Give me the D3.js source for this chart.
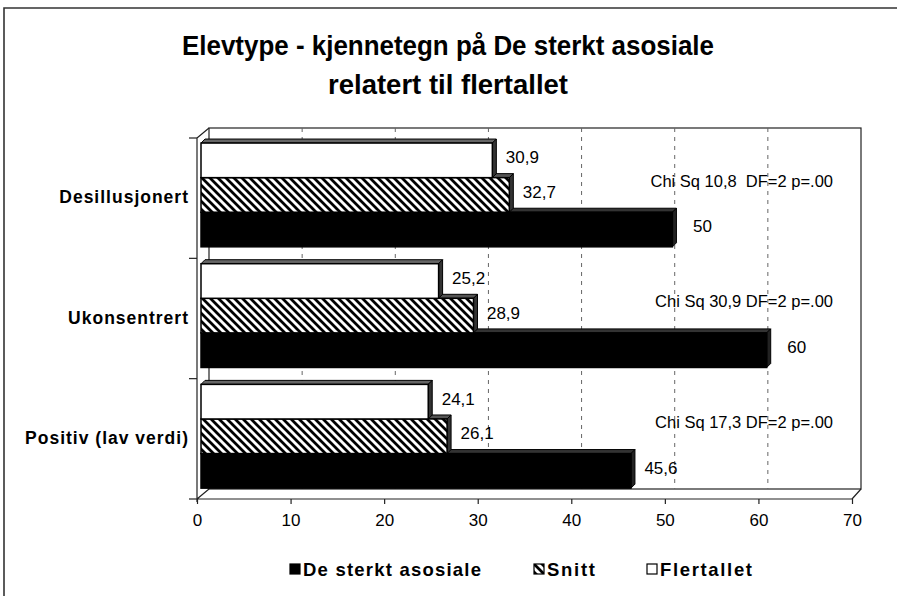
<!DOCTYPE html>
<html>
<head>
<meta charset="utf-8">
<script src="https://cdn.jsdelivr.net/npm/d3@7"></script>
<style>
  html, body { margin: 0; padding: 0; background: #fff; }
  svg { display: block; font-family: "Liberation Sans", Arial, sans-serif; }
</style>
</head>
<body>
<svg id="chart" width="897" height="596"></svg>
<script>
// Elevtype-data: tre kjennetegn, tre grupper
const categories = ["Desillusjonert", "Ukonsentrert", "Positiv (lav verdi)"];
const seriesNames = ["De sterkt asosiale", "Snitt", "Flertallet"];
const asosiale = [50, 60, 45.6];
const snitt = [32.7, 28.9, 26.1];
const flertallet = [30.9, 25.2, 24.1];
const chiLabels = ["Chi Sq 10,8  DF=2 p=.00", "Chi Sq 30,9 DF=2 p=.00", "Chi Sq 17,3 DF=2 p=.00"];
const xTicks = [0, 10, 20, 30, 40, 50, 60, 70];
const titleLines = ["Elevtype - kjennetegn på De sterkt asosiale", "relatert til flertallet"];

const svg = d3.select("#chart");

// 3D plot box: back wall, bar plane and front axis
const back = { x0: 209, x1: 861, y0: 128, y1: 489 };
const front = { x0: 197, x1: 852, y0: 138, y1: 499 };
const depth = { dx: 4, dy: -4 };

const xBack = d3.scaleLinear().domain([0, 70]).range([back.x0, back.x1]);
const xFront = d3.scaleLinear().domain([0, 70]).range([front.x0, front.x1]);
const xBar = d3.scaleLinear().domain([0, 70]).range([201, 861]);

const y = d3.scaleBand().domain(categories).range([134.6, 496.6])
  .paddingInner(0.14).paddingOuter(0.07);
const order = ["Flertallet", "Snitt", "De sterkt asosiale"];
const ySub = d3.scaleBand().domain(order).range([0, y.bandwidth()]);

const valuesBySeries = {
  "De sterkt asosiale": asosiale,
  "Snitt": snitt,
  "Flertallet": flertallet
};

// hatch pattern for "Snitt"
const defs = svg.append("defs");
const pat = defs.append("pattern").attr("id", "hatch")
  .attr("patternUnits", "userSpaceOnUse").attr("width", 8).attr("height", 8);
pat.append("rect").attr("width", 8).attr("height", 8).attr("fill", "#fff");
pat.append("path").attr("d", "M-2,-2 L10,10 M-2,6 L2,10 M6,-2 L10,2")
  .attr("stroke", "#000").attr("stroke-width", 2.8);

// outer frame
svg.append("path").attr("d", "M4,596 L4,8 L897,8")
  .attr("fill", "none").attr("stroke", "#333").attr("stroke-width", 1.6);

// title
const titleWidths = [532, 240];
svg.append("g").selectAll("text").data(titleLines).join("text")
  .attr("x", 448).attr("y", (d, i) => 55 + i * 39)
  .attr("text-anchor", "middle")
  .attr("font-size", 28).attr("font-weight", "bold")
  .attr("textLength", (d, i) => titleWidths[i]).attr("lengthAdjust", "spacingAndGlyphs")
  .text(d => d);

// back wall and floor
const wall = svg.append("g").attr("fill", "none").attr("stroke", "#222").attr("stroke-width", 1.2);
wall.append("rect").attr("x", back.x0).attr("y", back.y0)
  .attr("width", back.x1 - back.x0).attr("height", back.y1 - back.y0).attr("fill", "#fff");
wall.append("path").attr("d",
  `M${front.x0},${front.y0} L${back.x0},${back.y0}` +
  `M${front.x0},${front.y1} L${back.x0},${back.y1}` +
  `M${front.x1},${front.y1} L${back.x1},${back.y1}` +
  `M${front.x0},${front.y1} L${front.x1},${front.y1}` +
  `M${front.x0},${front.y0} L${front.x0},${front.y1 + 3}`);

// dashed gridlines on back wall
svg.append("g").selectAll("line").data(xTicks.slice(1, -1)).join("line")
  .attr("x1", d => xBack(d)).attr("x2", d => xBack(d))
  .attr("y1", back.y0).attr("y2", back.y1)
  .attr("stroke", "#666").attr("stroke-width", 1)
  .attr("stroke-dasharray", "4,5");

// value axis ticks on the front edge
const xAxis = d3.axisBottom(xFront).tickValues(xTicks).tickSize(5).tickPadding(10).tickFormat(d3.format("d"));
const gx = svg.append("g").attr("transform", `translate(0,${front.y1})`).call(xAxis);
gx.select(".domain").remove();
gx.selectAll(".tick line").attr("stroke", "#222").attr("stroke-width", 1.2);
gx.selectAll(".tick text").attr("font-size", 17).attr("fill", "#000")
  .attr("font-family", "Liberation Sans, Arial, sans-serif");

// category axis
const catEdges = d3.range(categories.length + 1).map(i => front.y0 + i * (front.y1 - front.y0) / categories.length);
svg.append("g").selectAll("line").data(catEdges).join("line")
  .attr("x1", front.x0 - 8).attr("x2", front.x0)
  .attr("y1", d => d).attr("y2", d => d)
  .attr("stroke", "#222").attr("stroke-width", 1.2);
svg.append("g").selectAll("text").data(categories).join("text")
  .attr("x", 189).attr("y", d => y(d) + y.bandwidth() / 2 + 2)
  .attr("dy", "0.35em").attr("text-anchor", "end")
  .attr("font-size", 17.5).attr("font-weight", "bold")
  .attr("letter-spacing", 1)
  .text(d => d);

// bars (drawn bottom-most group last so upper faces overlap correctly)
const faces = {
  "De sterkt asosiale": { front: "#000", top: "#333", side: "#222" },
  "Snitt": { front: "url(#hatch)", top: "#555", side: "#333" },
  "Flertallet": { front: "#fff", top: "#666", side: "#333" }
};
const barData = [];
categories.forEach((c, ci) => {
  order.slice().reverse().forEach(s => {
    barData.push({ cat: c, series: s, value: valuesBySeries[s][ci] });
  });
});
const bars = svg.append("g").selectAll("g").data(barData).join("g");
bars.each(function (d) {
  const g = d3.select(this);
  const x0 = xBar(0), x1 = xBar(d.value);
  const y0 = y(d.cat) + ySub(d.series), y1 = y0 + ySub.bandwidth();
  const f = faces[d.series];
  // top face
  g.append("path")
    .attr("d", `M${x0},${y0} L${x0 + depth.dx},${y0 + depth.dy} L${x1 + depth.dx},${y0 + depth.dy} L${x1},${y0} Z`)
    .attr("fill", f.top).attr("stroke", "#000").attr("stroke-width", 1);
  // side face
  g.append("path")
    .attr("d", `M${x1},${y0} L${x1 + depth.dx},${y0 + depth.dy} L${x1 + depth.dx},${y1 + depth.dy} L${x1},${y1} Z`)
    .attr("fill", f.side).attr("stroke", "#000").attr("stroke-width", 1);
  // front face
  g.append("rect").attr("x", x0).attr("y", y0)
    .attr("width", x1 - x0).attr("height", y1 - y0)
    .attr("fill", f.front).attr("stroke", "#000").attr("stroke-width", 1.5);
});

// value labels
svg.append("g").selectAll("text").data(barData).join("text")
  .attr("x", d => xBar(d.value) + 30)
  .attr("y", d => y(d.cat) + ySub(d.series) + ySub.bandwidth() / 2 - 3)
  .attr("dy", "0.35em").attr("text-anchor", "middle")
  .attr("font-size", 17)
  .text(d => d3.format(".1f")(d.value).replace(/\.0$/, "").replace(".", ","));

// chi-square notes
svg.append("g").selectAll("text").data(chiLabels).join("text")
  .attr("x", 833).attr("y", (d, i) => y(categories[i]) + 38)
  .attr("dy", "0.35em").attr("text-anchor", "end")
  .attr("font-size", 16.5).style("white-space", "pre")
  .text(d => d);

// legend
const legendItems = [
  { name: seriesNames[0], fill: "#000", x: 290, w: 178 },
  { name: seriesNames[1], fill: "url(#hatch)", x: 534, w: 48 },
  { name: seriesNames[2], fill: "#fff", x: 647, w: 92 }
];
const lg = svg.append("g").selectAll("g").data(legendItems).join("g")
  .attr("transform", d => `translate(${d.x},564)`);
lg.append("rect").attr("width", 10).attr("height", 10)
  .attr("fill", d => d.fill).attr("stroke", "#000").attr("stroke-width", 1.2);
lg.append("text").attr("x", 13).attr("y", 11.5)
  .attr("font-size", 18.5).attr("font-weight", "bold")
  .attr("textLength", d => d.w).attr("lengthAdjust", "spacing")
  .text(d => d.name);
</script>
</body>
</html>
